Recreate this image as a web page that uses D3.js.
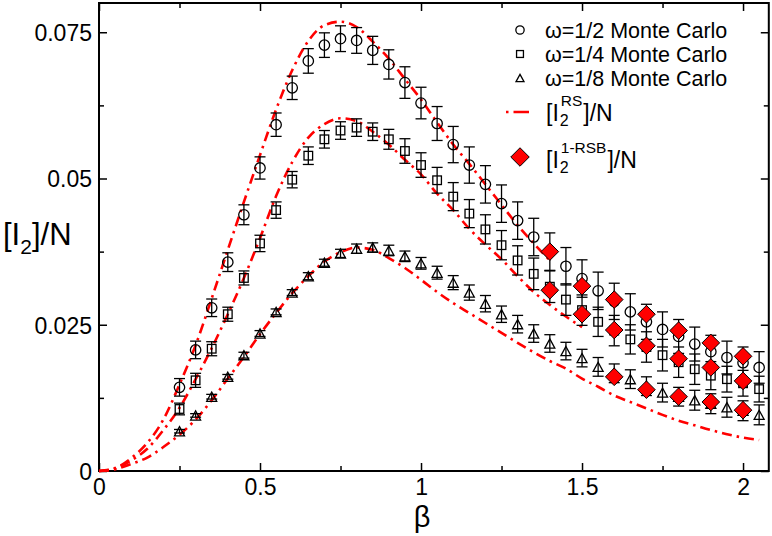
<!DOCTYPE html>
<html><head><meta charset="utf-8">
<script src="https://cdn.jsdelivr.net/npm/d3@7"></script>
<style>
body{margin:0;background:#fff}
svg{display:block}
text{font-family:"Liberation Sans",Arial,Helvetica,sans-serif;fill:#000}
</style>
</head><body>
<svg id="chart" width="772" height="536"></svg>
<script>
// ---------------- data ----------------
const betaMC = [0.25,0.30,0.35,0.40,0.45,0.50,0.55,0.60,0.65,0.70,0.75,0.80,0.85,0.90,0.95,1.00,1.05,1.10,1.15,1.20,1.25,1.30,1.35,1.40,1.45,1.50,1.55,1.60,1.65,1.70,1.75,1.80,1.85,1.90,1.95,2.00,2.05];
const mcW2 = [0.0143,0.0207,0.0279,0.0357,0.0438,0.0518,0.0592,0.0655,0.0701,0.0728,0.0739,0.0736,0.0719,0.0695,0.0664,0.0629,0.0594,0.0558,0.0523,0.0490,0.0457,0.0428,0.0400,0.0375,0.0350,0.0329,0.0308,0.0290,0.0272,0.0255,0.0242,0.0230,0.0217,0.0204,0.0194,0.0185,0.0177];
const errW2 = [0.0015,0.0015,0.0015,0.0016,0.0017,0.0019,0.0020,0.0020,0.0021,0.0021,0.0022,0.0022,0.0024,0.0025,0.0027,0.0027,0.0029,0.0031,0.0031,0.0032,0.0032,0.0032,0.0032,0.0032,0.0032,0.0032,0.0032,0.0031,0.0031,0.0030,0.0030,0.0029,0.0029,0.0028,0.0028,0.0027,0.0027];
const mcW4 = [0.0106,0.0155,0.0209,0.0268,0.0330,0.0389,0.0446,0.0498,0.0539,0.0567,0.0582,0.0587,0.0580,0.0567,0.0547,0.0523,0.0497,0.0469,0.0440,0.0413,0.0386,0.0360,0.0337,0.0315,0.0293,0.0275,0.0255,0.0240,0.0225,0.0212,0.0198,0.0186,0.0174,0.0163,0.0157,0.0150,0.0140];
const errW4 = [0.0010,0.0012,0.0012,0.0012,0.0012,0.0014,0.0014,0.0014,0.0015,0.0015,0.0015,0.0015,0.0015,0.0017,0.0021,0.0021,0.0022,0.0024,0.0024,0.0025,0.0025,0.0025,0.0027,0.0027,0.0027,0.0026,0.0025,0.0026,0.0025,0.0026,0.0027,0.0026,0.0026,0.0024,0.0022,0.0022,0.0022];
const mcW8 = [0.0068,0.0095,0.0127,0.0161,0.0198,0.0235,0.0272,0.0305,0.0333,0.0356,0.0372,0.0380,0.0382,0.0377,0.0367,0.0355,0.0339,0.0322,0.0305,0.0286,0.0268,0.0251,0.0235,0.0218,0.0205,0.0193,0.0178,0.0167,0.0157,0.0145,0.0134,0.0127,0.0121,0.0115,0.0109,0.0103,0.0096];
const errW8 = [0.0003,0.0003,0.0004,0.0004,0.0005,0.0005,0.0005,0.0005,0.0006,0.0006,0.0007,0.0008,0.0008,0.0009,0.0009,0.0010,0.0011,0.0012,0.0013,0.0014,0.0014,0.0015,0.0015,0.0015,0.0015,0.0015,0.0016,0.0016,0.0016,0.0016,0.0016,0.0016,0.0017,0.0017,0.0017,0.0017,0.0017];

const betaRS = [0,0.05,0.10,0.15,0.20,0.25,0.30,0.35,0.40,0.45,0.50,0.55,0.60,0.65,0.70,0.75,0.80,0.85,0.90,0.95,1.00,1.05,1.10,1.15,1.20,1.25,1.30,1.35,1.40,1.45,1.50,1.55,1.60,1.65,1.70,1.75,1.80,1.85,1.90,1.95,2.00,2.05];
const rsW2 = [0,0.0005,0.0022,0.0048,0.0088,0.0148,0.0215,0.0295,0.0378,0.0460,0.0540,0.0618,0.0685,0.0735,0.0762,0.0768,0.0759,0.0734,0.0705,0.0670,0.0635,0.0596,0.0558,0.0525,0.0490,0.0455,0.0420,0.0389,0.0360];
const rsW4 = [0,0.0004,0.0018,0.0038,0.0070,0.0108,0.0157,0.0210,0.0268,0.0330,0.0398,0.0470,0.0528,0.0570,0.0593,0.0603,0.0598,0.0580,0.0558,0.0532,0.0507,0.0474,0.0446,0.0414,0.0387,0.0362,0.0333,0.0306,0.0284,0.0264,0.0246];
const rsW8 = [0,0.0003,0.0012,0.0023,0.0041,0.0062,0.0088,0.0121,0.0158,0.0195,0.0234,0.0270,0.0304,0.0333,0.0358,0.0374,0.0382,0.0378,0.0364,0.0347,0.0327,0.0306,0.0287,0.0270,0.0253,0.0236,0.0219,0.0203,0.0188,0.0175,0.0158,0.0144,0.0129,0.0118,0.0107,0.0096,0.0086,0.0078,0.0070,0.0063,0.0057,0.0053];

const betaRSB = [1.4,1.5,1.6,1.7,1.8,1.9,2.0];
const rsbW2 = [0.0375,0.0316,0.0293,0.0268,0.0240,0.0219,0.0196];
const rsbW4 = [0.0309,0.0268,0.0241,0.0214,0.0192,0.0177,0.0154];
const rsbW8 = [null,null,0.0161,0.0139,0.0127,0.0118,0.0104];

const xTicks = [0,0.5,1,1.5,2];
const xTickLabels = ["0","0.5","1","1.5","2"];
const xMinor = [0.25,0.75,1.25,1.75];
const yTicks = [0,0.025,0.05,0.075];
const yTickLabels = ["0","0.025","0.05","0.075"];
const yMinor = [0.0125,0.0375,0.0625];

const legendLabels = ["ω=1/2 Monte Carlo","ω=1/4 Monte Carlo","ω=1/8 Monte Carlo"];

// ---------------- chart ----------------
const svg = d3.select("#chart");
const L = 99, R = 768.8, T = 3, B = 471;
const x = d3.scaleLinear().domain([0,2.08]).range([L,R]);
const y = d3.scaleLinear().domain([0,0.08]).range([B,T]);
const RED = "#ff0000";

function styleAxis(g){ g.select(".domain").remove(); g.selectAll("line").attr("stroke","#000").attr("stroke-width",1.5); }
const bottom = svg.append("g").attr("transform",`translate(0,${B})`)
  .call(d3.axisBottom(x).tickValues(xTicks).tickSize(-8).tickPadding(0).tickFormat((d,i)=>xTickLabels[i]));
styleAxis(bottom);
bottom.selectAll("text").attr("font-size",23).attr("y",24).attr("dy",0).attr("font-family","Liberation Sans, Arial, sans-serif");
svg.append("g").attr("transform",`translate(0,${B})`)
  .call(d3.axisBottom(x).tickValues(xMinor).tickSize(-5).tickFormat("")).call(styleAxis);
svg.append("g").attr("transform",`translate(0,${T})`)
  .call(d3.axisTop(x).tickValues(xTicks).tickSize(-8).tickFormat("")).call(styleAxis);
svg.append("g").attr("transform",`translate(0,${T})`)
  .call(d3.axisTop(x).tickValues(xMinor).tickSize(-5).tickFormat("")).call(styleAxis);

const left = svg.append("g").attr("transform",`translate(${L},0)`)
  .call(d3.axisLeft(y).tickValues(yTicks).tickSize(-8).tickPadding(0).tickFormat((d,i)=>yTickLabels[i]));
styleAxis(left);
left.selectAll("text").attr("font-size",23).attr("x",-7).attr("dy","0.36em").attr("font-family","Liberation Sans, Arial, sans-serif");
svg.append("g").attr("transform",`translate(${L},0)`)
  .call(d3.axisLeft(y).tickValues(yMinor).tickSize(-5).tickFormat("")).call(styleAxis);
svg.append("g").attr("transform",`translate(${R},0)`)
  .call(d3.axisRight(y).tickValues(yTicks).tickSize(-8).tickFormat("")).call(styleAxis);
svg.append("g").attr("transform",`translate(${R},0)`)
  .call(d3.axisRight(y).tickValues(yMinor).tickSize(-5).tickFormat("")).call(styleAxis);

svg.append("rect").attr("x",L).attr("y",T).attr("width",R-L).attr("height",B-T)
  .attr("fill","none").attr("stroke","#000").attr("stroke-width",2);

// RS curves
const plot = svg.append("g");
const line = d3.line().x(d=>x(d[0])).y(d=>y(d[1])).curve(d3.curveMonotoneX);
[rsW2,rsW4,rsW8].forEach(arr=>{
  const pts = arr.map((v,i)=>[betaRS[i],v]);
  plot.append("path").attr("d",line(pts)).attr("fill","none").attr("stroke",RED)
    .attr("stroke-width",2.6).attr("stroke-dasharray","10,5,2.5,5");
});

// MC data
const cap = 5.5;
function drawSeries(vals, errs, shape){
  const g = plot.append("g");
  vals.forEach((v,i)=>{
    const cx = x(betaMC[i]), cy = y(v);
    const y1 = y(v+errs[i]), y2 = y(v-errs[i]);
    g.append("line").attr("x1",cx).attr("x2",cx).attr("y1",y1).attr("y2",y2).attr("stroke","#000").attr("stroke-width",1.3);
    g.append("line").attr("x1",cx-cap).attr("x2",cx+cap).attr("y1",y1).attr("y2",y1).attr("stroke","#000").attr("stroke-width",1.3);
    g.append("line").attr("x1",cx-cap).attr("x2",cx+cap).attr("y1",y2).attr("y2",y2).attr("stroke","#000").attr("stroke-width",1.3);
    drawMarker(g, shape, cx, cy, 1);
  });
}
function drawMarker(g, shape, cx, cy, s){
  if(shape==="circle"){
    g.append("circle").attr("cx",cx).attr("cy",cy).attr("r",5.2*s).attr("fill","none").attr("stroke","#000").attr("stroke-width",1.3);
  } else if(shape==="square"){
    const h=4.3*s;
    g.append("rect").attr("x",cx-h).attr("y",cy-h).attr("width",2*h).attr("height",2*h).attr("fill","none").attr("stroke","#000").attr("stroke-width",1.3);
  } else if(shape==="triangle"){
    const w=5*s, hh=4.6*s;
    g.append("path").attr("d",`M${cx},${cy-hh}L${cx+w},${cy+hh}L${cx-w},${cy+hh}Z`).attr("fill","none").attr("stroke","#000").attr("stroke-width",1.3);
  } else if(shape==="diamond"){
    const d=8.8*s;
    g.append("path").attr("d",`M${cx},${cy-d}L${cx+d},${cy}L${cx},${cy+d}L${cx-d},${cy}Z`).attr("fill",RED).attr("stroke","#000").attr("stroke-width",1);
  }
}
drawSeries(mcW2, errW2, "circle");
drawSeries(mcW4, errW4, "square");
drawSeries(mcW8, errW8, "triangle");

const dg = plot.append("g");
[rsbW2,rsbW4,rsbW8].forEach(arr=>{
  arr.forEach((v,i)=>{ if(v!==null) drawMarker(dg,"diamond",x(betaRSB[i]),y(v),1); });
});

// legend
const lg = svg.append("g");
const shapes = ["circle","square","triangle"];
const rowY = [30,54,78];
shapes.forEach((s,i)=>{
  drawMarker(lg, s, 520, rowY[i], 0.8);
  lg.append("text").attr("x",545).attr("y",rowY[i]+7.5).attr("font-size",21.5).text(legendLabels[i]);
});
lg.append("path").attr("d","M506,112L529,112").attr("fill","none").attr("stroke",RED)
  .attr("stroke-width",2.6).attr("stroke-dasharray","2.5,5,14,0");
drawMarker(lg,"diamond",520,157,1.05);

function stacked(g, x0, base, sup, supDy, subDy){
  const t1 = g.append("text").attr("x",x0).attr("y",base).attr("font-size",23).text("[I");
  const w1 = t1.node().getComputedTextLength();
  const xs = x0 + w1 + 1;
  const tsup = g.append("text").attr("x",xs+1).attr("y",base+supDy).attr("font-size",15.5).text(sup);
  const tsub = g.append("text").attr("x",xs).attr("y",base+subDy).attr("font-size",16).text("2");
  const w = Math.max(tsup.node().getComputedTextLength()+1, tsub.node().getComputedTextLength());
  g.append("text").attr("x",xs+w+1).attr("y",base).attr("font-size",23).text("]/N");
}
stacked(lg, 546, 121, "RS", -15, 5);
stacked(lg, 546, 168, "1-RSB", -15, 5);

// axis titles
const yt = svg.append("g");
(function(){
  const t1 = yt.append("text").attr("x",3).attr("y",245).attr("font-size",31).text("[I");
  const w1 = t1.node().getComputedTextLength();
  const t2 = yt.append("text").attr("x",3+w1).attr("y",254).attr("font-size",21).text("2");
  const w2 = t2.node().getComputedTextLength();
  yt.append("text").attr("x",3+w1+w2).attr("y",245).attr("font-size",31).text("]/N");
})();
svg.append("text").attr("x",422).attr("y",527).attr("text-anchor","middle").attr("font-size",29).text("β");
</script>
</body></html>
